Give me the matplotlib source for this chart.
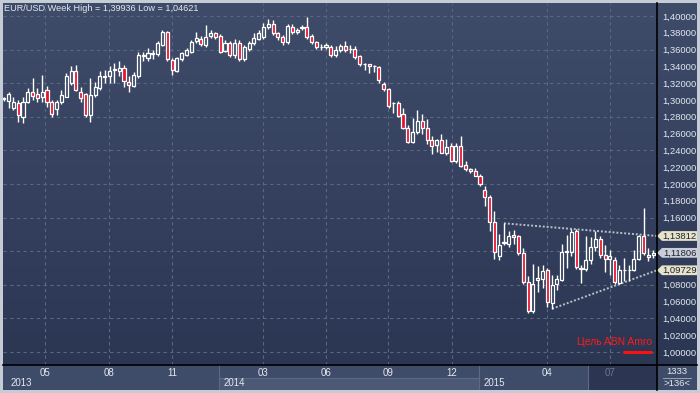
import numpy as np
import matplotlib
matplotlib.use("Agg")
import matplotlib.pyplot as plt
from matplotlib.colors import LinearSegmentedColormap
from matplotlib.patches import Polygon
from matplotlib.transforms import blended_transform_factory

# ---- weekly EUR/USD candles (136 bars) ----
opens = [1.3020, 1.2990, 1.2900, 1.2960, 1.2800, 1.2980, 1.3100, 1.3070, 1.3040, 1.3120,
         1.2980, 1.2890, 1.2980, 1.3040, 1.3200, 1.3340, 1.3100, 1.3070, 1.2820, 1.3060,
         1.3140, 1.3270, 1.3280, 1.3360, 1.3340, 1.3380, 1.3210, 1.3170, 1.3280, 1.3520,
         1.3500, 1.3555, 1.3550, 1.3660, 1.3810, 1.3480, 1.3345, 1.3483, 1.3535, 1.3575,
         1.3706, 1.3722, 1.3654, 1.3761, 1.3793, 1.3761, 1.3587, 1.3682, 1.3535, 1.3682,
         1.3483, 1.3602, 1.3682, 1.3726, 1.3753, 1.3865, 1.3904, 1.3793, 1.3745, 1.3694,
         1.3865, 1.3805, 1.3853, 1.3865, 1.3761, 1.3694, 1.3629, 1.3626, 1.3634, 1.3540,
         1.3595, 1.3643, 1.3605, 1.3603, 1.3524, 1.3430, 1.3428, 1.3402, 1.3389, 1.3186,
         1.3127, 1.2960, 1.2960, 1.2829, 1.2670, 1.2503, 1.2614, 1.2749, 1.2662, 1.2523,
         1.2464, 1.2523, 1.2364, 1.2452, 1.2277, 1.2452, 1.2222, 1.2178, 1.2154, 1.2094,
         1.1928, 1.1848, 1.1543, 1.1147, 1.1300, 1.1290, 1.1388, 1.1385, 1.1175, 1.0830,
         1.0490, 1.0857, 1.0870, 1.0980, 1.0580, 1.0805, 1.0860, 1.1190, 1.1190, 1.1440,
         1.0990, 1.0985, 1.1100, 1.1255, 1.1340, 1.1150, 1.1110, 1.1100, 1.0825, 1.0975,
         1.0980, 1.0975, 1.1105, 1.1385, 1.1160, 1.1150]
highs = [1.3040, 1.3100, 1.3040, 1.3000, 1.3040, 1.3140, 1.3260, 1.3140, 1.3300, 1.3170,
         1.3000, 1.3000, 1.3120, 1.3320, 1.3400, 1.3420, 1.3160, 1.3080, 1.3260, 1.3220,
         1.3340, 1.3360, 1.3400, 1.3440, 1.3460, 1.3420, 1.3280, 1.3330, 1.3570, 1.3570,
         1.3620, 1.3590, 1.3700, 1.3830, 1.3820, 1.3500, 1.3510, 1.3570, 1.3620, 1.3710,
         1.3810, 1.3760, 1.3890, 1.3830, 1.3810, 1.3780, 1.3720, 1.3700, 1.3730, 1.3720,
         1.3660, 1.3700, 1.3793, 1.3830, 1.3920, 1.3960, 1.3950, 1.3810, 1.3770, 1.3900,
         1.3900, 1.3860, 1.3890, 1.39936, 1.3780, 1.3700, 1.3670, 1.3680, 1.3660, 1.3640,
         1.3667, 1.3706, 1.3655, 1.3643, 1.3540, 1.3436, 1.3430, 1.3416, 1.3400, 1.3210,
         1.3140, 1.2980, 1.2988, 1.2900, 1.2702, 1.2780, 1.2880, 1.2833, 1.2770, 1.2570,
         1.2535, 1.2590, 1.2535, 1.2491, 1.2491, 1.2570, 1.2277, 1.2190, 1.2194, 1.2114,
         1.1975, 1.1868, 1.1678, 1.1400, 1.1532, 1.1440, 1.1450, 1.1395, 1.1240, 1.0900,
         1.1045, 1.1020, 1.1030, 1.1000, 1.0920, 1.0920, 1.1290, 1.1390, 1.1460, 1.1460,
         1.1040, 1.1380, 1.1370, 1.1435, 1.1380, 1.1270, 1.1215, 1.1130, 1.1030, 1.1115,
         1.1040, 1.1220, 1.1390, 1.1714, 1.1240, 1.1215]
lows = [1.2990, 1.2900, 1.2880, 1.2740, 1.2730, 1.2960, 1.3000, 1.2980, 1.2980, 1.2920,
        1.2800, 1.2820, 1.2950, 1.3030, 1.3180, 1.3110, 1.2980, 1.2800, 1.2740, 1.3040,
        1.3120, 1.3200, 1.3200, 1.3200, 1.3280, 1.3160, 1.3100, 1.3160, 1.3260, 1.3470,
        1.3470, 1.3490, 1.3520, 1.3640, 1.3460, 1.3300, 1.3330, 1.3470, 1.3520, 1.3560,
        1.3680, 1.3640, 1.3630, 1.3740, 1.3730, 1.3560, 1.3570, 1.3510, 1.3500, 1.3460,
        1.3460, 1.3580, 1.3660, 1.3710, 1.3730, 1.3840, 1.3770, 1.3720, 1.3660, 1.3670,
        1.3780, 1.3780, 1.3830, 1.3730, 1.3670, 1.3610, 1.3590, 1.3610, 1.3510, 1.3510,
        1.3575, 1.3570, 1.3563, 1.3484, 1.3400, 1.3360, 1.3325, 1.3330, 1.3206, 1.3110,
        1.2910, 1.2850, 1.2800, 1.2660, 1.2490, 1.2490, 1.2600, 1.2600, 1.2480, 1.2353,
        1.2384, 1.2364, 1.2350, 1.2265, 1.2245, 1.2200, 1.2158, 1.2134, 1.2090, 1.1980,
        1.1741, 1.1443, 1.1102, 1.1095, 1.1274, 1.1250, 1.1280, 1.1155, 1.0815, 1.0470,
        1.04621, 1.0710, 1.0760, 1.0540, 1.0515, 1.0740, 1.0850, 1.1000, 1.1140, 1.0990,
        1.0820, 1.0960, 1.1050, 1.1200, 1.1120, 1.0955, 1.0920, 1.0810, 1.0810, 1.0840,
        1.0850, 1.0960, 1.1090, 1.1160, 1.1085, 1.1120]
closes = [1.3010, 1.3075, 1.2980, 1.2820, 1.2980, 1.3100, 1.3050, 1.3020, 1.3100, 1.2980,
          1.2830, 1.2980, 1.3060, 1.3280, 1.3350, 1.3120, 1.3020, 1.2820, 1.3060, 1.3160,
          1.3280, 1.3280, 1.3350, 1.3360, 1.3380, 1.3230, 1.3180, 1.3300, 1.3540, 1.3540,
          1.3560, 1.3545, 1.3680, 1.3805, 1.3490, 1.3356, 1.3495, 1.3555, 1.3595, 1.3694,
          1.3734, 1.3666, 1.3753, 1.3793, 1.3753, 1.3575, 1.3674, 1.3535, 1.3682, 1.3483,
          1.3634, 1.3674, 1.3734, 1.3793, 1.3872, 1.3904, 1.3793, 1.3745, 1.3694, 1.3884,
          1.3805, 1.3833, 1.3872, 1.3745, 1.3694, 1.3626, 1.3626, 1.3654, 1.3535, 1.3600,
          1.3643, 1.3595, 1.3603, 1.3516, 1.3428, 1.3428, 1.3404, 1.3404, 1.3238, 1.3127,
          1.2932, 1.2960, 1.2809, 1.2670, 1.2503, 1.2614, 1.2749, 1.2662, 1.2523, 1.2452,
          1.2523, 1.2373, 1.2436, 1.2277, 1.2452, 1.2214, 1.2174, 1.2154, 1.2094, 1.1995,
          1.1840, 1.1543, 1.1193, 1.1274, 1.1308, 1.1380, 1.1368, 1.1175, 1.0830, 1.0490,
          1.0805, 1.0877, 1.0964, 1.0590, 1.0800, 1.0865, 1.1190, 1.1200, 1.1430, 1.1010,
          1.0998, 1.1100, 1.1255, 1.1340, 1.1160, 1.1110, 1.1145, 1.0830, 1.0975, 1.0980,
          1.0975, 1.1105, 1.1385, 1.1180, 1.1130, 1.11806]

# month ticks (bar positions) and year sections
month_pos = [8.6, 21.8, 35.0, 53.9, 67.0, 79.9, 93.2, 113.0, 126.0]
month_lbl = ["05", "08", "11", "03", "06", "09", "12", "04", "07"]
year_start = [-0.15, 44.8, 98.9]
year_lbl = ["2013", "2014", "2015"]

# triangle trendlines (start bar, start price) -> value at price axis
upper_line = [(104, 1.1532), (135.8, 1.13812)]
lower_line = [(114, 1.0515), (135.8, 1.09729)]
tags = [1.13812, 1.11806, 1.09729]
target = 1.00

W, H = 700, 393
def fx(px): return px / W
def fy(py): return 1 - py / H

TXT = "#e3e8f0"
RED = "#e8112d"
plt.rcParams["font.family"] = ["Liberation Sans", "DejaVu Sans"]

fig = plt.figure(figsize=(7, 3.93), dpi=100, facecolor="#c5ccd6")

# gradient background behind plot + price scale
bg = fig.add_axes([fx(3), fy(365), fx(697) - fx(3), fy(3) - fy(365)])
cmap = LinearSegmentedColormap.from_list("bg", ["#3f4c69", "#2b3653"])
bg.imshow(np.linspace(0, 1, 256).reshape(-1, 1), aspect="auto", cmap=cmap, extent=[0, 1, 0, 1])
bg.axis("off")

ax = fig.add_axes([fx(3), fy(365), fx(657) - fx(3), fy(3) - fy(365)])
ax.patch.set_alpha(0)
ax.set_xlim(-0.15, 135.8)
ax.set_ylim(0.98452, 1.41548)

# grid
for v in np.arange(1.00, 1.401, 0.04):
    ax.axhline(v, color="#5a6682", lw=0.8, ls=(0, (3, 3)), zorder=1)
for p in month_pos:
    ax.axvline(p, color="#5a6682", lw=0.8, ls=(0, (3, 3)), zorder=1)

# candles
x = np.arange(len(closes))
o = np.array(opens); h = np.array(highs); l = np.array(lows); c = np.array(closes)
lo = np.minimum(o, c); hi = np.maximum(o, c)
ax.vlines(x, l, lo, color="white", lw=1.0, zorder=3)
ax.vlines(x, hi, h, color="white", lw=1.0, zorder=3)
bull = c >= o
height = np.maximum(hi - lo, 0.0004)
ax.bar(x[bull], height[bull], bottom=lo[bull], width=0.64, facecolor="none",
       edgecolor="white", linewidth=0.9, zorder=4)
ax.bar(x[~bull], height[~bull], bottom=lo[~bull], width=0.64, facecolor=RED,
       edgecolor="white", linewidth=0.9, zorder=4)

# dotted triangle
for line in (upper_line, lower_line):
    xs, ys = zip(*line)
    ax.plot(xs, ys, color="#b9bfca", lw=1.4, ls=(0, (1, 1)), zorder=2, clip_on=False)

# target
ax.plot([128.8, 134.8], [target, target], color="#ff1010", lw=2.2, solid_capstyle="butt", zorder=5)
ax.text(134.8, 1.0119, "Цель ABN Amro", color="#ff1a1a", fontsize=7.5, ha="right", va="center", zorder=5)

# price scale on the right
ticks = [v for v in np.arange(1.00, 1.401, 0.02) if round(v, 2) not in (1.10, 1.12, 1.14)]
ax.yaxis.tick_right()
ax.set_yticks(ticks)
ax.set_yticklabels([f"{v:.5f}".replace(".", ",") for v in ticks])
ax.tick_params(axis="y", length=0, pad=3.5, labelsize=6.8, labelcolor=TXT)
ax.set_xticks([])
for s in ax.spines.values():
    s.set_visible(False)

tr = blended_transform_factory(fig.transFigure, ax.transData)
hh = 0.0058
for val, fc in zip(tags, ["#e7e4c9", "#c9ced8", "#e7e4c9"]):
    pts = [(fx(657), val), (fx(662), val + hh), (fx(697), val + hh), (fx(697), val - hh), (fx(662), val - hh)]
    ax.add_patch(Polygon(pts, closed=True, transform=tr, facecolor=fc, edgecolor="none", clip_on=False, zorder=6))
    ax.text(fx(679.5), val, f"{val:.5f}".replace(".", ","), transform=tr, ha="center", va="center",
            fontsize=6.8, color="#1d2230", zorder=7, clip_on=False)

fig.text(fx(4), fy(8.5), "EUR/USD Week High = 1,39936 Low = 1,04621", color=TXT, fontsize=6.6, va="center")

# time axis panel
axb = fig.add_axes([fx(3), fy(390), fx(657) - fx(3), fy(365) - fy(390)])
axb.set_facecolor("#3f4c69")
axb.set_xlim(-0.15, 135.8)
axb.set_ylim(0, 1)
axb.axvspan(year_start[1], year_start[2], ymin=0, ymax=0.47, color="#4b5876", lw=0)
axb.axhline(0.47, xmin=(year_start[1] + 0.15) / 135.95, xmax=(year_start[2] + 0.15) / 135.95, color="#5d6987", lw=0.8)
axb.axvspan(121.4, 135.8, color="#2c3652", lw=0)
for p in (year_start[1], year_start[2], 121.4):
    axb.axvline(p, color="#5d6987", lw=0.8)
for p, t in zip(month_pos, month_lbl):
    axb.text(p, 0.7, t, color="#6b7692" if p > 121.4 else TXT, fontsize=7, ha="center", va="center")
for p, t in zip(year_start, year_lbl):
    axb.text(p + 1.6 if p < 0 else p + 0.8, 0.26, t, color=TXT, fontsize=7, ha="left", va="center")
axb.set_xticks([]); axb.set_yticks([])
for s in axb.spines.values():
    s.set_visible(False)

# bars counter box
axc = fig.add_axes([fx(657), fy(390), fx(697) - fx(657), fy(365) - fy(390)])
axc.set_facecolor("#3f4c69")
axc.set_xlim(0, 1); axc.set_ylim(0, 1)
axc.text(0.5, 0.74, "1333", color=TXT, fontsize=6.8, ha="center", va="center")
axc.text(0.5, 0.26, ">136<", color=TXT, fontsize=6.8, ha="center", va="center")
axc.plot([0.15, 0.85], [0.5, 0.5], color="#9aa3b5", lw=0.7)
axc.set_xticks([]); axc.set_yticks([])
for s in axc.spines.values():
    s.set_visible(False)

# black frame lines
fig.add_artist(plt.Line2D([fx(3), fx(697)], [fy(365), fy(365)], color="black", lw=1.2))
fig.add_artist(plt.Line2D([fx(657), fx(657)], [fy(3), fy(390)], color="black", lw=1.2))

fig.savefig("out.png", dpi=100, facecolor=fig.get_facecolor())
